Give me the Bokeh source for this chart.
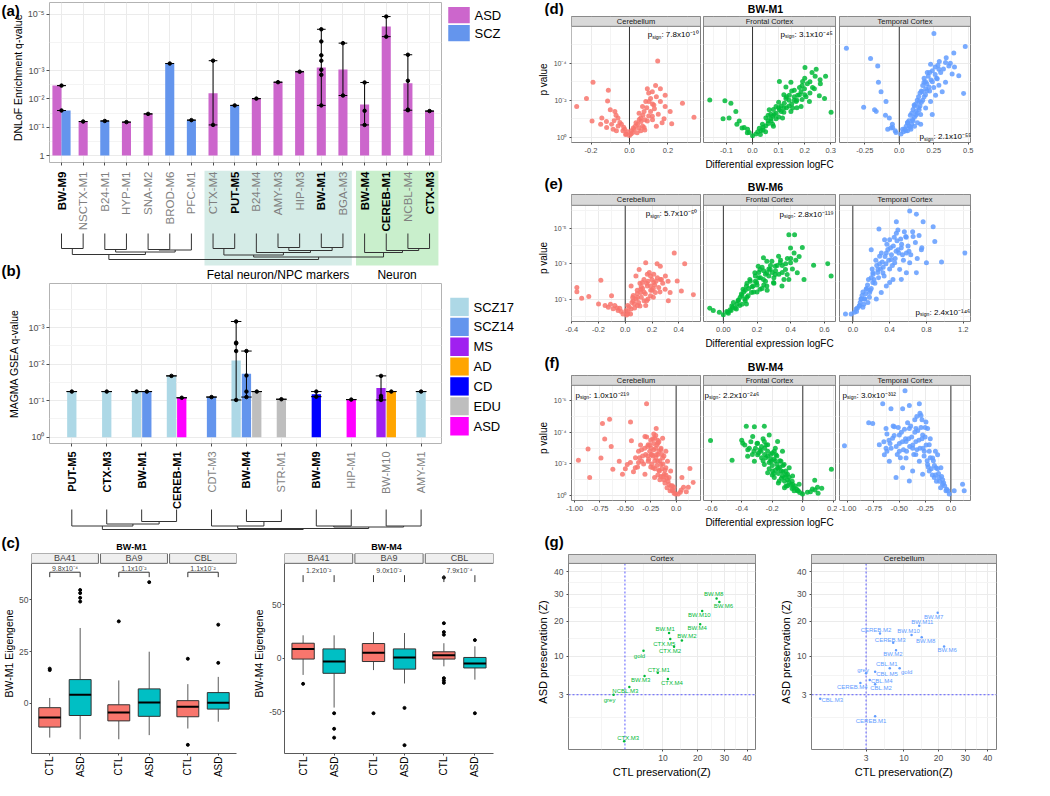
import math
from bokeh.plotting import figure
from bokeh.models import Range1d, FixedTicker, Label
from bokeh.layouts import row, column
from bokeh.core.properties import value
from bokeh.embed import file_html
from bokeh.resources import INLINE

FONT = "Liberation Sans"

# ======================= DATA =======================
# (a) DNLoF enrichment, values are -log10(q)
a_categories = ["BW-M9", "NSCTX-M1", "B24-M1", "HYP-M1", "SNA-M2", "BROD-M6", "PFC-M1",
                "CTX-M4", "PUT-M5", "B24-M4", "AMY-M3", "HIP-M3", "BW-M1", "BGA-M3",
                "BW-M4", "CEREB-M1", "NCBL-M4", "CTX-M3"]
a_bold = ["BW-M9", "PUT-M5", "BW-M1", "BW-M4", "CEREB-M1", "CTX-M3"]
a_groups = ["ASD", "SCZ"]
a_group_colors = ["#CC66CC", "#6495ED"]
a_bar_cat = ["BW-M9", "BW-M9", "NSCTX-M1", "B24-M1", "HYP-M1", "SNA-M2", "BROD-M6", "PFC-M1",
             "CTX-M4", "PUT-M5", "B24-M4", "AMY-M3", "HIP-M3", "BW-M1", "BGA-M3", "BW-M4",
             "CEREB-M1", "NCBL-M4", "CTX-M3"]
a_bar_grp = ["ASD", "SCZ", "ASD", "SCZ", "ASD", "ASD", "SCZ", "SCZ", "ASD", "SCZ", "ASD", "ASD",
             "ASD", "ASD", "ASD", "ASD", "ASD", "ASD", "ASD"]
a_bar_val = [2.47, 1.59, 1.20, 1.22, 1.18, 1.47, 3.25, 1.25, 2.20, 1.77, 2.01, 2.59, 2.96,
             3.11, 3.04, 1.80, 4.56, 2.55, 1.57]
a_bar_dots = [[2.47], [1.59], [1.20], [1.22], [1.18], [1.47], [3.25], [1.25], [1.08, 3.35],
              [1.77], [2.01], [2.59], [2.96], [4.46, 4.03, 3.54, 3.35, 3.03, 2.85, 1.77],
              [2.12, 3.97], [1.08, 1.58, 2.58], [4.20, 4.91], [1.60, 1.62, 2.64, 3.56], [1.57]]
a_bands = [("Fetal neuron/NPC markers", "CTX-M4", "BGA-M3", "#D5ECE7"),
           ("Neuron", "BW-M4", "CTX-M3", "#C9EFCC")]
# dendrogram merges: (node, node, depth below leaf tips in px)
a_dendro = [(0, 1, 15), (2, 3, 16), (4, 5, 16), (20, 6, 16.5), (19, 21, 18.5), (18, 22, 21),
            (7, 8, 15), (10, 11, 14), (12, 13, 14), (25, 26, 17), (9, 27, 19), (24, 28, 21.5),
            (16, 17, 15), (15, 30, 17), (14, 31, 19), (29, 32, 23.5), (23, 33, 26)]

# (b) MAGMA GSEA, values are -log10(q)
b_categories = ["PUT-M5", "CTX-M3", "BW-M1", "CEREB-M1", "CDT-M3", "BW-M4", "STR-M1",
                "BW-M9", "HIP-M1", "BW-M10", "AMY-M1"]
b_bold = ["PUT-M5", "CTX-M3", "BW-M1", "CEREB-M1", "BW-M4", "BW-M9"]
b_groups = ["SCZ17", "SCZ14", "MS", "AD", "CD", "EDU", "ASD"]
b_group_colors = ["#ADD8E6", "#6495ED", "#A020F0", "#FFA500", "#0000FF", "#BEBEBE", "#FF00FF"]
b_bar_cat = ["PUT-M5", "CTX-M3", "BW-M1", "BW-M1", "CEREB-M1", "CEREB-M1", "CDT-M3", "BW-M4",
             "BW-M4", "BW-M4", "STR-M1", "BW-M9", "HIP-M1", "BW-M10", "BW-M10", "AMY-M1"]
b_bar_grp = ["SCZ17", "SCZ17", "SCZ17", "SCZ14", "SCZ17", "ASD", "SCZ14", "SCZ17", "SCZ14",
             "EDU", "EDU", "CD", "ASD", "MS", "AD", "SCZ17"]
b_bar_val = [1.25, 1.25, 1.25, 1.25, 1.68, 1.08, 1.10, 2.10, 1.74, 1.25, 1.04, 1.18, 1.03,
             1.35, 1.25, 1.25]
b_bar_dots = [[1.25], [1.25], [1.25], [1.25], [1.68], [1.08], [1.10],
              [1.02, 2.36, 2.57, 2.59, 3.17], [1.10, 1.25, 1.69, 2.36], [1.25], [1.04],
              [1.11, 1.25], [1.03], [1.02, 1.08, 1.13, 1.68], [1.25], [1.25]]
b_dendro = [(2, 3, 12), (1, 11, 14.5), (0, 12, 16.5), (5, 6, 12), (4, 14, 16.5), (7, 8, 16.5),
            (9, 10, 16.5), (16, 17, 17.5), (15, 18, 19), (13, 19, 20)]

# (c) eigengene boxplots: order BA41 CTL, BA41 ASD, BA9 CTL, BA9 ASD, CBL CTL, CBL ASD
c_facets = ["BA41", "BA9", "CBL"]
c_groups = ["CTL", "ASD"]
c_colors = ["#F8766D", "#00BFC4"]
m1_q1 = [-11.6, -6.0, -8.6, -6.4, -6.6, -2.9]
m1_med = [-7.0, 4.0, -4.6, 0.3, -1.8, 0.2]
m1_q3 = [-2.2, 11.4, -0.8, 6.9, 1.2, 5.1]
m1_lo = [-16.7, -17.5, -17.5, -15.5, -12.3, -9.0]
m1_hi = [2.5, 36.4, 11.0, 24.9, 9.2, 12.7]
m1_out = [[16.7, 16.0], [54.8, 53.3, 51.0, 49.2], [39.6], [58.6], [21.5, -20.2], [19.5, 38.0]]
m1_p = ["9.8x10⁻⁴", "1.1x10⁻²", "1.1x10⁻²"]
m4_q1 = [-0.6, -13.9, -2.9, -10.0, -0.6, -8.9]
m4_med = [8.9, -2.9, 5.3, 0.9, 2.9, -4.7]
m4_q3 = [14.2, 8.9, 13.9, 8.9, 6.2, 0.9]
m4_lo = [-15.4, -45.9, -10.9, -23.4, -7.4, -19.8]
m4_hi = [21.6, 21.6, 24.6, 23.7, 14.2, 11.3]
m4_out = [[-23.7], [-51.2, -65.7, -74.0], [-51.2], [-46.2, -81.0],
          [75.5, 32.9, 24.6, 22.2, -18.4, -20.7, -22.8], [17.1, -51.2]]
m4_p = ["1.2x10⁻²", "9.0x10⁻²", "7.9x10⁻⁴"]

# (d)-(f) volcano: (logFC, -log10 p)
region_names = ["Cerebellum", "Frontal Cortex", "Temporal Cortex"]
region_colors = ["#F8766D", "#00BA38", "#619CFF"]
d_cer = [(-0.275,1.67),(-0.224,2.1),(-0.19,2.98),(-0.195,0.88),(-0.11,2.54),(-0.114,1.96),(-0.144,1.05),(-0.10,1.49),(-0.076,1.4),(-0.06,1.05),(-0.042,0.7),(-0.025,0.44),(-0.093,0.7),(-0.068,0.35),(-0.017,0.18),(0.008,0.18),(0.025,0.44),(0.042,0.7),(0.059,1.05),(0.076,1.4),(0.085,1.93),(0.093,2.63),(0.119,2.46),(0.136,2.8),(0.147,4.12),(0.127,1.75),(0.11,1.4),(0.161,1.93),(0.186,1.67),(0.212,1.4),(0.17,0.79),(0.276,1.84),(0.336,1.09),(0.22,0.74),(0.068,0.61),(0.051,0.96),(0.034,0.79),(0.093,0.88),(0.119,1.14),(0.076,0.53),(0.017,0.26),(-0.034,0.35),(-0.085,0.44),(-0.119,0.53),(-0.059,0.61),(0.059,0.35),(0.102,1.93),(0.161,2.63),(0.068,1.67),(0.186,2.28),
         (-0.08,0.9),(-0.05,0.8),(-0.03,0.55),(-0.01,0.3),(0.0,0.1),(0.01,0.35),(0.03,0.6),(0.05,0.5),(0.06,0.85),(0.07,1.2),(0.08,0.95),(0.09,1.6),(0.1,1.15),(0.11,2.1),(0.12,0.95),(0.13,1.55),(0.14,2.2),(0.1,2.4),(0.15,1.25),(0.05,1.3),(-0.07,1.2),(-0.12,0.85),(-0.15,0.7),(0.04,0.25),(0.02,0.5),(-0.02,0.15),(0.08,0.4),(0.14,0.6),(0.18,1.0),(0.12,1.8)]
d_fro = [(-0.164,2.02),(-0.106,1.98),(-0.083,1.84),(-0.064,1.4),(-0.113,1.0),(-0.09,1.05),(-0.051,0.88),(-0.032,0.53),(-0.013,0.26),(0.013,0.18),(0.032,0.35),(0.051,0.61),(0.071,0.88),(0.083,1.23),(0.103,1.49),(0.122,1.84),(0.141,2.28),(0.16,2.54),(0.186,2.46),(0.199,2.63),(0.205,2.19),(0.256,2.25),(0.301,1.35),(0.244,3.68),(0.201,3.77),(0.228,3.51),(0.259,3.11),(0.192,3.02),(0.147,2.98),(0.103,3.02),(0.128,2.72),(0.167,1.93),(0.154,1.58),(0.115,1.05),(0.077,0.7),(0.051,1.05),(0.038,0.7),(0.09,1.67),(0.147,1.4),(0.186,1.67),(0.218,1.93),(0.276,2.1),(0.064,1.49),(0.026,0.49),(-0.019,0.44),(0.128,2.1),(0.173,2.28),(0.237,2.63),(0.077,1.14),(0.0,0.09),
         (0.02,0.3),(0.04,0.55),(0.06,0.75),(0.07,1.0),(0.08,0.6),(0.09,1.3),(0.1,1.1),(0.11,1.7),(0.12,1.35),(0.13,1.6),(0.14,2.0),(0.15,1.8),(0.16,2.2),(0.17,2.0),(0.18,2.7),(0.2,2.3),(0.21,2.9),(0.22,2.4),(0.12,2.3),(0.1,1.9),(0.06,1.2),(0.08,1.5),(-0.02,0.25),(-0.04,0.5),(-0.06,0.7),(0.03,0.15),(0.05,0.3),(0.15,2.5),(0.17,1.6),(0.19,2.05),
         (0.04,0.4),(0.06,0.9),(0.09,1.0),(0.11,1.4),(0.12,1.6),(0.13,2.2),(0.14,1.7),(0.16,2.0),(0.18,2.3),(0.19,2.8),(0.2,3.2),(0.22,3.0),(0.23,2.7),(0.24,3.3),(0.26,2.9),(0.28,3.3),(0.1,1.6),(0.07,1.25)]
d_tem = [(-0.383,4.82),(-0.208,4.26),(-0.156,3.86),(-0.258,1.63),(-0.151,2.98),(-0.132,2.46),(-0.179,1.49),(-0.096,1.93),(-0.167,1.4),(-0.072,1.05),(-0.048,0.53),(-0.084,0.44),(-0.024,0.26),(0.012,0.18),(0.048,0.35),(0.072,0.61),(0.096,0.96),(0.12,1.4),(0.144,1.93),(0.167,2.46),(0.179,2.98),(0.203,3.51),(0.227,3.95),(0.251,5.61),(0.287,3.68),(0.335,4.04),(0.395,4.56),(0.478,4.91),(0.466,2.37),(0.383,3.42),(0.335,2.98),(0.287,2.81),(0.263,2.28),(0.227,1.93),(0.191,1.58),(0.155,1.23),(0.132,0.79),(0.084,0.44),(0.155,0.7),(0.239,1.23),(0.311,2.46),(0.431,3.33),(0.359,3.86),(0.191,2.63),(0.108,1.75),(0.06,0.79),(0.024,0.44),(0.275,3.16),(0.215,2.72),(0.144,1.49),
         (0.03,0.3),(0.05,0.6),(0.07,0.9),(0.08,1.2),(0.09,0.7),(0.1,1.5),(0.11,1.1),(0.12,1.8),(0.13,1.3),(0.14,2.2),(0.15,1.7),(0.16,2.5),(0.17,2.0),(0.18,3.2),(0.19,2.3),(0.2,2.9),(0.21,3.3),(0.22,2.5),(0.23,3.1),(0.24,3.6),(0.25,2.7),(0.26,3.4),(0.28,3.9),(0.3,3.5),(-0.03,0.35),(-0.05,0.7),(-0.06,0.5),(-0.1,1.2),(0.06,0.35),(0.11,0.6),
         (0.04,0.45),(0.06,0.8),(0.08,0.55),(0.09,1.3),(0.1,0.9),(0.11,1.7),(0.12,1.2),(0.13,2.0),(0.14,1.6),(0.15,2.4),(0.16,1.9),(0.17,2.8),(0.18,2.2),(0.19,3.0),(0.2,2.5),(0.22,3.5),(0.24,3.0),(0.26,3.8),(0.27,3.2),(0.29,4.1),(0.32,3.7),(0.34,4.3),(0.37,4.0),(0.4,3.8)]
e_cer = [(-0.361,1.65),(-0.361,1.41),(-0.325,1.04),(-0.272,1.15),(-0.182,2.06),(-0.199,0.72),(-0.102,1.18),(-0.126,0.54),(-0.078,0.63),(-0.053,0.35),(-0.017,0.16),(0.019,0.16),(0.044,0.44),(0.068,0.72),(0.092,1.09),(0.116,1.37),(0.128,1.93),(0.153,3.05),(0.165,2.4),(0.189,1.74),(0.213,1.93),(0.238,3.0),(0.262,2.86),(0.262,2.11),(0.298,1.56),(0.335,1.37),(0.366,3.6),(0.388,2.02),(0.419,1.46),(0.444,3.0),(0.509,1.24),(0.08,2.3),(0.104,2.67),(0.044,1.74),(0.056,1.09),(0.141,0.91),(0.189,1.18),(0.225,1.37),(0.25,1.65),(0.165,1.74),(0.116,1.56),(0.019,0.63),(0.007,0.35),(0.189,2.3),(0.322,0.91),(0.092,0.63),(0.153,0.63),(0.213,2.4),(-0.15,0.63),(-0.041,0.48),
         (0.02,0.3),(0.03,0.55),(0.05,0.8),(0.06,1.2),(0.07,0.5),(0.08,1.0),(0.09,1.5),(0.1,0.8),(0.11,1.9),(0.12,1.1),(0.13,1.6),(0.14,2.1),(0.15,1.3),(0.16,1.9),(0.17,1.0),(0.18,2.5),(0.19,1.5),(0.2,2.1),(0.21,1.1),(0.22,1.8),(0.24,2.2),(0.26,1.4),(0.28,1.9),(0.3,2.3),(-0.03,0.3),(-0.06,0.5),(-0.09,0.45),(-0.11,0.7),(0.01,0.1),(0.04,0.15),
         (0.06,0.9),(0.09,1.3),(0.12,1.7),(0.14,1.4),(0.17,2.0),(0.2,1.5),(0.23,2.0),(0.27,2.1),(0.32,2.0),(0.11,0.6),(0.16,0.9),(0.21,1.6)]
e_fro = [(-0.081,0.48),(-0.06,0.35),(-0.024,0.25),(0.0,0.11),(0.026,0.25),(0.056,0.54),(0.087,0.91),(0.107,1.28),(0.137,1.74),(0.157,2.11),(0.187,2.49),(0.207,2.86),(0.238,3.33),(0.258,2.49),(0.288,3.14),(0.308,2.86),(0.338,3.05),(0.369,2.67),(0.399,3.88),(0.389,4.63),(0.423,4.63),(0.469,3.91),(0.536,2.91),(0.62,3.0),(0.64,2.3),(0.479,2.11),(0.439,2.49),(0.389,2.11),(0.348,1.74),(0.298,1.93),(0.258,1.74),(0.218,1.56),(0.197,1.93),(0.167,1.37),(0.127,1.0),(0.097,0.63),(0.077,0.44),(0.147,1.18),(0.238,2.11),(0.308,2.39),(0.399,3.05),(0.218,2.67),(0.278,2.67),(0.177,1.74),(0.117,1.56),(0.046,0.35),(0.379,2.39),(0.328,3.42),(0.258,3.14),(0.137,0.72),
         (0.02,0.3),(0.04,0.4),(0.06,0.8),(0.08,0.7),(0.1,1.1),(0.12,1.4),(0.13,0.9),(0.15,1.6),(0.16,2.0),(0.18,1.4),(0.19,2.3),(0.2,1.8),(0.22,2.2),(0.23,1.6),(0.24,2.6),(0.25,2.0),(0.27,2.3),(0.28,2.9),(0.3,2.2),(0.31,2.6),(0.33,2.4),(0.35,2.9),(0.36,2.1),(0.38,3.3),(0.41,2.7),(0.43,3.2),(0.11,0.7),(0.14,1.1),(0.21,2.5),(0.26,1.5),
         (0.03,0.2),(0.05,0.6),(0.07,0.5),(0.09,0.95),(0.11,1.2),(0.13,1.5),(0.14,1.9),(0.17,1.7),(0.19,2.0),(0.21,2.2),(0.23,2.8),(0.25,2.4),(0.27,2.7),(0.29,2.5),(0.32,2.9),(0.34,3.2),(0.37,3.0),(0.4,3.3),(0.42,3.6),(0.45,3.4),(0.24,1.8),(0.3,1.9),(0.2,1.4),(0.35,2.5)]
e_tem = [(-0.08,0.16),(-0.018,0.16),(0.018,0.25),(0.073,0.63),(0.127,1.0),(0.182,1.37),(0.218,1.93),(0.2,3.79),(0.273,2.67),(0.284,4.96),(0.364,3.6),(0.4,4.35),(0.455,3.05),(0.473,5.37),(0.527,3.88),(0.575,4.54),(0.618,5.98),(0.691,5.8),(0.764,5.37),(0.873,5.09),(0.891,4.25),(0.8,3.05),(0.964,3.1),(1.218,3.6),(0.691,2.49),(0.582,3.6),(0.509,2.67),(0.436,2.11),(0.364,1.74),(0.309,1.37),(0.255,1.0),(0.164,0.81),(0.109,0.54),(0.327,2.49),(0.418,3.23),(0.491,3.79),(0.582,2.49),(0.655,4.54),(0.745,3.79),(0.291,3.42),(0.218,2.49),(0.4,1.93),(0.527,2.11),(0.145,1.56),(0.091,1.0),(0.618,3.05),(0.473,4.72),(0.345,4.35),(0.2,2.21),(0.036,0.44),
         (0.05,0.5),(0.08,0.8),(0.1,1.2),(0.12,0.7),(0.14,1.3),(0.16,1.8),(0.18,1.1),(0.2,1.6),(0.22,2.4),(0.24,1.9),(0.26,2.9),(0.28,2.2),(0.3,2.7),(0.32,3.1),(0.34,2.3),(0.36,3.0),(0.38,3.8),(0.4,2.7),(0.42,3.5),(0.44,4.0),(0.46,3.3),(0.48,4.3),(0.5,3.6),(0.53,4.1),(0.55,3.2),(0.6,4.0),(0.63,3.5),(0.68,4.2),(0.7,3.3),(0.56,4.8),
         (0.04,0.3),(0.07,0.6),(0.09,1.0),(0.11,1.4),(0.13,1.0),(0.15,1.6),(0.17,2.1),(0.19,1.5),(0.21,2.7),(0.23,2.1),(0.25,3.2),(0.27,2.5),(0.29,3.0),(0.31,3.6),(0.33,2.8),(0.35,3.4),(0.37,4.1),(0.39,3.2),(0.41,3.9),(0.43,2.9),(0.45,4.5),(0.47,3.7),(0.49,4.9),(0.52,4.4),(0.54,3.5),(0.58,4.5),(0.61,3.7),(0.65,4.8),(0.72,4.6),(0.75,3.9)]
f_cer = [(-0.962,2.24),(-0.867,2.94),(-0.851,1.14),(-0.74,2.38),(-0.725,4.55),(-0.655,4.82),(-0.703,3.58),(-0.639,3.1),(-0.623,1.66),(-0.56,2.17),(-0.528,1.35),(-0.449,4.66),(-0.44,3.46),(-0.37,2.8),(-0.339,2.17),(-0.291,5.8),(-0.307,3.73),(-0.244,3.0),(-0.196,4.24),(-0.212,3.62),(-0.18,3.31),(-0.149,3.0),(-0.275,2.17),(-0.228,1.76),(-0.18,2.17),(-0.133,2.38),(-0.101,1.76),(-0.07,1.14),(-0.038,0.62),(-0.006,0.1),(0.041,0.21),(0.073,0.52),(0.057,1.14),(0.136,1.72),(0.168,0.83),(0.12,0.52),(-0.165,1.55),(-0.212,1.14),(-0.307,1.35),(-0.402,1.76),(-0.117,1.35),(-0.149,1.97),(-0.244,2.59),(-0.101,2.8),(-0.054,1.55),(-0.196,2.59),(-0.275,3.21),(-0.481,1.97),(-0.022,0.52),(-0.085,2.17),(-0.133,3.62),
         (-0.05,0.6),(-0.08,0.9),(-0.1,1.3),(-0.12,1.0),(-0.14,1.7),(-0.15,1.2),(-0.16,2.2),(-0.17,1.6),(-0.18,2.6),(-0.19,1.9),(-0.2,3.0),(-0.21,2.2),(-0.22,3.3),(-0.23,2.5),(-0.24,2.0),(-0.25,3.5),(-0.26,2.8),(-0.27,2.3),(-0.28,3.1),(-0.3,2.6),(-0.32,2.0),(-0.34,2.9),(-0.36,2.4),(-0.38,1.8),(-0.4,2.4),(-0.42,1.5),(-0.45,2.1),(-0.5,1.7),(-0.03,0.3),(0.02,0.1),(0.05,0.35),(0.1,0.25),(-0.12,2.5),(-0.15,2.9),(-0.18,3.5),(-0.22,3.9),
         (-0.02,0.15),(-0.04,0.35),(-0.06,0.3),(-0.07,0.7),(-0.09,0.5),(-0.09,1.1),(-0.11,0.8),(-0.11,1.6),(-0.13,1.2),(-0.13,2.0),(-0.14,2.6),(-0.16,1.0),(-0.17,2.8),(-0.18,1.3),(-0.19,3.2),(-0.2,2.4),(-0.21,1.7),(-0.22,2.9),(-0.23,3.6),(-0.24,2.6),(-0.25,1.8),(-0.26,3.2),(-0.28,2.5),(-0.29,3.7),(-0.31,3.0),(-0.33,2.5),(-0.35,3.2),(-0.37,2.1),(-0.2,3.8),(-0.17,3.4)]
f_fro = [(-0.604,3.48),(-0.463,2.24),(-0.393,3.31),(-0.37,4.39),(-0.328,3.73),(-0.317,4.35),(-0.252,4.39),(-0.252,3.42),(-0.274,2.8),(-0.23,3.21),(-0.187,2.8),(-0.165,3.42),(-0.209,2.17),(-0.165,1.76),(-0.143,2.17),(-0.111,1.55),(-0.089,1.14),(-0.067,0.72),(-0.035,0.31),(-0.002,0.1),(0.03,0.21),(0.063,0.41),(0.096,0.52),(0.124,0.46),(0.187,1.66),(0.078,0.97),(-0.35,3.0),(-0.296,2.59),(-0.317,2.17),(-0.252,1.97),(-0.198,1.55),(-0.133,1.24),(-0.122,1.97),(-0.067,1.24),(-0.187,1.14),(-0.23,1.45),(-0.057,0.31),(-0.1,0.62),(-0.176,2.59),(-0.133,2.8),(-0.296,3.31),(-0.361,2.48),(-0.154,0.93),(-0.089,1.76),(-0.22,3.83),(-0.024,0.72),
         (-0.02,0.2),(-0.04,0.4),(-0.06,0.5),(-0.07,0.9),(-0.08,0.7),(-0.1,1.0),(-0.11,1.3),(-0.12,0.9),(-0.13,1.5),(-0.14,1.1),(-0.15,1.8),(-0.16,1.4),(-0.17,2.0),(-0.18,1.6),(-0.19,2.3),(-0.2,1.9),(-0.21,2.6),(-0.22,2.1),(-0.23,2.8),(-0.24,2.4),(-0.25,3.0),(-0.26,2.2),(-0.28,2.9),(-0.3,3.3),(-0.32,2.8),(-0.34,3.4),(-0.2,1.3),(-0.16,0.8),(-0.12,0.5),(0.05,0.25),(0.08,0.35),(0.1,0.15),
         (-0.03,0.3),(-0.05,0.6),(-0.07,0.45),(-0.09,0.85),(-0.1,1.35),(-0.12,1.15),(-0.13,1.9),(-0.14,1.55),(-0.15,2.2),(-0.16,1.7),(-0.17,2.5),(-0.18,2.2),(-0.19,1.4),(-0.2,2.7),(-0.21,2.3),(-0.22,1.7),(-0.23,2.5),(-0.24,3.2),(-0.25,2.6),(-0.27,3.1),(-0.27,2.4),(-0.29,2.7),(-0.31,3.0),(-0.33,2.6),(-0.36,2.9),(-0.38,3.2),(-0.4,3.5),(-0.26,3.6),(-0.18,3.0),(-0.11,0.6)]
f_tem = [(-1.032,3.15),(-0.797,4.6),(-0.758,4.55),(-0.661,5.8),(-0.581,5.49),(-0.548,4.35),(-0.445,6.63),(-0.468,5.49),(-0.403,5.69),(-0.306,5.8),(-0.29,5.07),(-0.242,4.66),(-0.694,3.21),(-0.629,3.0),(-0.645,2.59),(-0.597,2.17),(-0.532,1.14),(-0.5,3.83),(-0.435,3.42),(-0.371,3.0),(-0.435,2.38),(-0.371,1.55),(-0.306,2.17),(-0.258,2.8),(-0.21,3.21),(-0.177,2.38),(-0.145,1.76),(-0.113,1.14),(-0.081,0.72),(-0.048,0.31),(-0.016,0.1),(0.032,0.31),(0.113,0.72),(0.129,0.31),(-0.339,4.24),(-0.274,3.83),(-0.226,4.24),(-0.403,4.24),(-0.5,2.8),(-0.565,3.62),(-0.274,1.35),(-0.226,1.97),(-0.129,2.59),(-0.339,2.59),(-0.468,1.76),(-0.161,1.14),(-0.097,1.76),(-0.403,0.93),(-0.21,1.55),(-0.629,4.24),
         (-0.03,0.3),(-0.06,0.6),(-0.08,1.0),(-0.1,0.5),(-0.12,1.4),(-0.14,0.9),(-0.16,1.9),(-0.18,1.3),(-0.2,2.4),(-0.22,1.8),(-0.24,3.2),(-0.26,2.5),(-0.28,3.6),(-0.3,3.0),(-0.32,4.1),(-0.34,3.4),(-0.36,2.6),(-0.38,3.7),(-0.4,3.1),(-0.42,4.6),(-0.44,3.6),(-0.46,2.9),(-0.48,4.0),(-0.5,3.3),(-0.52,2.6),(-0.55,3.8),(-0.58,3.0),(-0.6,3.5),(-0.62,2.8),(-0.65,3.4),(-0.3,5.2),(-0.25,4.3),(-0.35,4.8),(-0.2,3.6),(-0.15,2.8),
         (-0.04,0.4),(-0.07,0.8),(-0.09,1.2),(-0.11,0.9),(-0.13,1.7),(-0.15,1.3),(-0.17,2.2),(-0.19,1.7),(-0.21,2.8),(-0.23,2.2),(-0.25,3.7),(-0.27,3.0),(-0.29,4.3),(-0.31,3.5),(-0.33,2.9),(-0.35,4.0),(-0.37,3.2),(-0.39,4.4),(-0.41,3.6),(-0.43,2.8),(-0.45,4.2),(-0.47,3.4),(-0.49,2.4),(-0.51,4.3),(-0.53,3.1),(-0.56,4.4),(-0.59,3.3),(-0.62,3.9),(-0.28,4.8),(-0.33,5.0)]
d_psign = ["7.8x10⁻¹⁰", "3.1x10⁻⁴⁵", "2.1x10⁻⁵⁵"]
e_psign = ["5.7x10⁻⁵⁰", "2.8x10⁻¹¹⁹", "2.4x10⁻¹⁴⁶"]
f_psign = ["1.0x10⁻²¹⁹", "2.2x10⁻²⁴⁶", "3.0x10⁻³¹²"]

# (g) preservation Z
g_ctx_names = ["BW.M8", "BW.M6", "BW.M10", "BW.M4", "BW.M1", "BW.M2", "CTX.M5", "CTX.M2", "gold",
               "CTX.M1", "BW.M3", "CTX.M4", "NCBL.M3", "grey", "CTX.M3"]
g_ctx_ctl = [26.8, 27.9, 21.5, 20.8, 11.5, 15.0, 11.8, 12.8, 5.9, 8.8, 6.1, 11.2, 3.6, 1.7, 2.9]
g_ctx_asd = [28.3, 26.9, 23.6, 19.0, 16.3, 14.1, 14.5, 12.4, 11.4, 6.5, 5.9, 5.4, 4.1, 3.0, 0.0]
g_cbl_names = ["BW.M7", "BW.M11", "CEREB.M2", "BW.M10", "CEREB.M3", "BW.M8", "BW.M6", "BW.M2",
               "CBL.M1", "gold", "grey", "CBL.M5", "CBL.M4", "CEREB.M4", "CBL.M2", "CBL.M3",
               "CEREB.M1"]
g_cbl_ctl = [19.7, 14.0, 5.1, 11.9, 7.6, 14.7, 21.9, 8.2, 6.9, 9.0, 3.0, 4.3, 3.5, 2.3, 4.3, 0.0, 4.3]
g_cbl_asd = [22.9, 18.5, 16.1, 15.7, 13.5, 15.0, 12.5, 11.5, 7.4, 7.4, 6.4, 6.7, 5.2, 4.7, 4.5, 2.5, 0.87]
g_threshold = 3.0
# label placement offsets (screen px) for the point labels
g_ctx_dx = [-3, 4, -3, -3, -4, 5, -6, -4, -4, 1, -4, 4, -4, -4, 4]
g_ctx_dy = [-5, 4, 4, 4, -4, -4, 5, 4, 5, -3, 4, 4, 4, 5, -3]
g_cbl_dx = [-4, 3, -4, -3, -3, 4, 3, -3, -3, 7, -3, 12, 12, -8, 6, 12, -4]
g_cbl_dy = [4, -4, -4, -4, -3, 4, 4, 4, -4, 4, -3, 2, 1, 4, 4, 1, 5]


# ======================= HELPERS =======================
class Fr:
    """frame geometry in page pixels (reference coordinates) and data ranges"""
    def __init__(self, fx0, fx1, fy0, fy1, xr, yr):
        self.fx0, self.fx1, self.fy0, self.fy1, self.xr, self.yr = fx0, fx1, fy0, fy1, xr, yr

    def x(self, px):
        return self.xr[0] + (px - self.fx0) / (self.fx1 - self.fx0) * (self.xr[1] - self.xr[0])

    def y(self, py):
        return self.yr[0] + (self.fy1 - py) / (self.fy1 - self.fy0) * (self.yr[1] - self.yr[0])


def make(cx0, cy0, w, h, fr, axes=True, yaxis=True):
    kw = dict(width=w, height=h, x_range=Range1d(*fr.xr), y_range=Range1d(*fr.yr),
              output_backend="svg", toolbar_location=None, tools="",
              min_border_left=int(round(fr.fx0 - cx0)), min_border_right=int(round(cx0 + w - fr.fx1)),
              min_border_top=int(round(fr.fy0 - cy0)), min_border_bottom=int(round(cy0 + h - fr.fy1)))
    if not axes:
        kw.update(x_axis_type=None, y_axis_type=None)
    elif not yaxis:
        kw.update(y_axis_location=None)
    p = figure(**kw)
    p.outline_line_color = None
    p.background_fill_color = "white"
    p.border_fill_color = "white"
    if axes:
        for ax in list(p.xaxis) + list(p.yaxis):
            ax.major_label_text_font = FONT
            ax.major_label_text_color = "#4D4D4D"
            ax.axis_label_text_font = FONT
            ax.axis_label_text_font_style = "normal"
            ax.axis_label_text_color = "black"
            ax.major_tick_in = 0
            ax.major_tick_out = 2
            ax.minor_tick_line_color = None
            ax.axis_line_color = None
            ax.major_tick_line_color = "#4D4D4D"
            ax.major_label_standoff = 1
            ax.axis_label_standoff = 2
    return p


def plain(cx0, cy0, w, h):
    """axis-less figure whose data coordinates are page pixels"""
    fr = Fr(cx0, cx0 + w, cy0, cy0 + h, (cx0, cx0 + w), (cy0 + h, cy0))
    return make(cx0, cy0, w, h, fr, axes=False), fr


def lab(p, fr, px, py, text, size, bold=False, color="black", align="left", baseline="middle", angle=0.0):
    p.add_layout(Label(x=fr.x(px), y=fr.y(py), text=text, text_font=FONT,
                       text_font_size=f"{size}px", text_font_style="bold" if bold else "normal",
                       text_color=color, text_align=align, text_baseline=baseline, angle=angle))


def set_ticks(p, axis, ticks, labels=None, minor=None):
    t = FixedTicker(ticks=ticks, minor_ticks=minor or [])
    axes = p.xaxis if axis == "x" else p.yaxis
    for ax in axes:
        ax.ticker = t
        if labels is not None:
            ax.major_label_overrides = dict(zip(ticks, labels))
    (p.xgrid if axis == "x" else p.ygrid).ticker = t


def grid_style(p, major="#EBEBEB", minor="#F4F4F4"):
    for g in (p.xgrid, p.ygrid):
        g.grid_line_color = major
        g.minor_grid_line_color = minor


def dendrogram(p, leaf_x, merges, leaf_y):
    xs = list(leaf_x)
    ys = [leaf_y] * len(leaf_x)
    x0, y0, x1, y1 = [], [], [], []
    for a, b, d in merges:
        h = leaf_y + d
        for n in (a, b):
            x0.append(xs[n]); y0.append(ys[n]); x1.append(xs[n]); y1.append(h)
        x0.append(xs[a]); y0.append(h); x1.append(xs[b]); y1.append(h)
        xs.append((xs[a] + xs[b]) / 2.0)
        ys.append(h)
    p.segment(x0, y0, x1, y1, line_color="#333333", line_width=1)


def cat_labels(p, cats, bold, ytop, size):
    bx = [i for i, c in enumerate(cats) if c in bold]
    nx = [i for i, c in enumerate(cats) if c not in bold]
    p.text(x=bx, y=[ytop] * len(bx), text=[cats[i] for i in bx], angle=math.pi / 2,
           text_font=value(FONT), text_font_size=f"{size}px", text_font_style="bold",
           text_color="black", text_align="right", text_baseline="middle")
    p.text(x=nx, y=[ytop] * len(nx), text=[cats[i] for i in nx], angle=math.pi / 2,
           text_font=value(FONT), text_font_size=f"{size}px", text_font_style="normal",
           text_color="#7F7F7F", text_align="right", text_baseline="middle")


def legend_fig(cx0, cy0, w, h, names, colors, ky0, kh, kx0, kw, tsize):
    p, fr = plain(cx0, cy0, w, h)
    tops = [ky0 + k * kh for k in range(len(names))]
    p.quad(left=kx0, right=kx0 + kw, top=tops, bottom=[t + kh for t in tops],
           fill_color=colors, line_color="white", line_width=1.5)
    p.text(x=kx0 + kw + 4, y=[t + kh / 2 for t in tops], text=names, text_font=value(FONT),
           text_font_size=f"{tsize}px", text_baseline="middle", text_align="left", text_color="black")
    return p


def bar_panel(p, cats, bar_cat, bar_grp, bar_val, bar_dots, groups, colors, width, step, dodge_err, cap):
    ci = {c: i for i, c in enumerate(cats)}
    col = dict(zip(groups, colors))
    xs = []
    for j, c in enumerate(bar_cat):
        same = [k for k, cc in enumerate(bar_cat) if cc == c]
        n = len(same)
        k = same.index(j)
        xs.append(ci[c] + (k - (n - 1) / 2.0) * step)
    p.vbar(x=xs, width=width, top=bar_val, bottom=0, fill_color=[col[g] for g in bar_grp],
           line_color=None)
    ex = xs if dodge_err else [ci[c] for c in bar_cat]
    lo = [min(d) for d in bar_dots]
    hi = [max(d) for d in bar_dots]
    p.segment(ex, lo, ex, hi, line_color="black", line_width=1)
    p.segment([x - cap for x in ex], lo, [x + cap for x in ex], lo, line_color="black", line_width=1)
    p.segment([x - cap for x in ex], hi, [x + cap for x in ex], hi, line_color="black", line_width=1)
    dx, dy = [], []
    for x, d in zip(ex, bar_dots):
        dx += [x] * len(d)
        dy += d
    p.scatter(dx, dy, size=3.5, color="black")


def hide_xlabels(p, n):
    set_ticks(p, "x", list(range(n)), [""] * n)
    p.xaxis.major_label_standoff = 0
    p.xaxis.major_tick_out = 3


# ======================= (a) =======================
A_C0, A_STEP = 69.0, 21.65
pTagA, frTagA = plain(8, 8, 24, 170)
lab(pTagA, frTagA, 9, 17, "(a)", 15, bold=True)
lab(pTagA, frTagA, 25, 88, "DNLoF Enrichment q-value", 10.5, align="center", angle=math.pi / 2)

frA = Fr(57, 449, 10, 170, ((57 - A_C0) / A_STEP, (449 - A_C0) / A_STEP), (-7 / 28.3, 153 / 28.3))
pA = make(32, 8, 420, 170, frA)
grid_style(pA)
pA.outline_line_color = "#B3B3B3"
bar_panel(pA, a_categories, a_bar_cat, a_bar_grp, a_bar_val, a_bar_dots, a_groups, a_group_colors,
          0.42, 0.42, False, 0.2)
set_ticks(pA, "y", [0, 1, 2, 3, 5], ["1", "10⁻¹", "10⁻²", "10⁻³", "10⁻⁵"], [0.5, 1.5, 2.5, 4])
hide_xlabels(pA, len(a_categories))
pA.yaxis.major_tick_out = 3
pA.yaxis.major_label_text_font_size = "9px"

pLA = legend_fig(452, 8, 90, 170, a_groups, a_group_colors, 12, 19, 455, 23, 13)

frA2 = Fr(8, 542, 178, 291, ((8 - A_C0) / A_STEP, (542 - A_C0) / A_STEP), (291, 178))
pA2 = make(8, 178, 534, 113, frA2, axes=False)
aci = {c: i for i, c in enumerate(a_categories)}
for name, c0, c1, colr in a_bands:
    pA2.quad(left=aci[c0] - 0.395, right=aci[c1] + 0.41, top=178, bottom=273, fill_color=colr, line_color=None)
    pA2.text(x=[(aci[c0] + aci[c1]) / 2.0], y=[282], text=[name], text_font=value(FONT),
             text_font_size="12px", text_align="center", text_baseline="middle", text_color="black")
cat_labels(pA2, a_categories, a_bold, 179, 11.5)
dendrogram(pA2, list(range(len(a_categories))), a_dendro, 241)
lab(pA2, frA2, 9, 278, "(b)", 15, bold=True)

# ======================= (b) =======================
B_C0, B_STEP = 79.3, 34.93
frB = Fr(57, 449, 291, 451, ((57 - B_C0) / B_STEP, (449 - B_C0) / B_STEP),
         ((444.7 - 451) / 36.5, (444.7 - 291) / 36.5))
pB = make(8, 291, 444, 165, frB)
grid_style(pB)
pB.outline_line_color = "#B3B3B3"
bar_panel(pB, b_categories, b_bar_cat, b_bar_grp, b_bar_val, b_bar_dots, b_groups, b_group_colors,
          0.266, 0.295, True, 0.15)
set_ticks(pB, "y", [0, 1, 2, 3], ["10⁰", "10⁻¹", "10⁻²", "10⁻³"], [0.5, 1.5, 2.5, 3.5])
hide_xlabels(pB, len(b_categories))
pB.yaxis.major_tick_out = 3
pB.yaxis.major_label_text_font_size = "9px"
pB.yaxis.axis_label = "MAGMA GSEA q-value"
pB.yaxis.axis_label_text_font_size = "10.5px"
pB.yaxis.axis_label_standoff = 5

pLB = legend_fig(452, 291, 90, 165, b_groups, b_group_colors, 305, 20.5, 457, 20, 13)

frB2 = Fr(8, 542, 456, 540, ((8 - B_C0) / B_STEP, (542 - B_C0) / B_STEP), (540, 456))
pB2 = make(8, 456, 534, 84, frB2, axes=False)
cat_labels(pB2, b_categories, b_bold, 459, 11)
dendrogram(pB2, list(range(len(b_categories))), b_dendro, 517)


# ======================= (c) =======================
def box_panel(cx0, w, fx0, fx1, ylo, yhi, q1, med, q3, lo, hi, outs, pvals, yticks, ylabel,
              full_bracket, ptext_y, br_y0, br_y1):
    ytop = yhi + 10 * (yhi - ylo) / 193.0
    fr = Fr(fx0, fx1, 561, 764, (0.4, 7.14), (ylo, ytop))
    p = make(cx0, 560, w, 228, fr)
    p.xgrid.visible = False
    p.ygrid.visible = False
    xs = [round(1 + g + 2.27 * f, 4) for f in range(3) for g in range(2)]
    cols = [c_colors[g] for f in range(3) for g in range(2)]
    p.segment(xs, hi, xs, q3, line_color="#595959", line_width=1)
    p.segment(xs, lo, xs, q1, line_color="#595959", line_width=1)
    p.vbar(x=xs, width=0.72, bottom=q1, top=q3, fill_color=cols, line_color="#333333", line_width=1)
    p.segment([x - 0.36 for x in xs], med, [x + 0.36 for x in xs], med, line_color="black", line_width=2)
    ox, oy = [], []
    for x, o in zip(xs, outs):
        ox += [x] * len(o)
        oy += o
    p.scatter(ox, oy, size=3, color="black")
    lefts = [0.4 + 2.27 * f for f in range(3)]
    p.quad(left=lefts, right=[l + 2.2 for l in lefts], bottom=yhi, top=ytop,
           fill_color="#EFEFEF", line_color="#666666", line_width=1)
    for f, name in enumerate(c_facets):
        p.add_layout(Label(x=lefts[f] + 1.1, y=(yhi + ytop) / 2, text=name, text_font=FONT,
                           text_font_size="9px", text_align="center", text_baseline="middle"))
        xa, xb = xs[2 * f], xs[2 * f + 1]
        p.add_layout(Label(x=(xa + xb) / 2, y=fr.y(ptext_y), text=pvals[f], text_font=FONT,
                           text_font_size="7px", text_align="center", text_baseline="middle"))
        if full_bracket:
            p.segment([xa], [fr.y(br_y0)], [xb], [fr.y(br_y0)], line_color="#333333", line_width=1)
        p.segment([xa, xb], [fr.y(br_y0)] * 2, [xa, xb], [fr.y(br_y1)] * 2, line_color="#333333", line_width=1)
    set_ticks(p, "x", xs, [c_groups[g] for f in range(3) for g in range(2)])
    set_ticks(p, "y", yticks, [str(t) for t in yticks])
    p.xaxis.major_label_orientation = math.pi / 2
    p.xaxis.major_label_text_font_size = "10px"
    p.xaxis.major_label_text_color = "black"
    p.yaxis.major_label_text_font_size = "8.5px"
    p.xaxis.axis_line_color = "#595959"
    p.yaxis.axis_line_color = "#595959"
    p.yaxis.bounds = (ylo, yhi)
    p.yaxis.axis_label = ylabel
    p.yaxis.axis_label_text_font_size = "10.5px"
    p.yaxis.axis_label_standoff = 1
    return p, fr


pHC, frHC = plain(8, 540, 534, 20)
lab(pHC, frHC, 9, 550, "(c)", 15, bold=True)
lab(pHC, frHC, 139, 554, "BW-M1", 9, bold=True, align="center")
lab(pHC, frHC, 394, 554, "BW-M4", 9, bold=True, align="center")
pC1, frC1 = box_panel(8, 250, 34, 244, -24.4, 67.7, m1_q1, m1_med, m1_q3, m1_lo, m1_hi, m1_out,
                      m1_p, [0, 25, 50], "BW-M1 Eigengene", True, 576, 580, 585)
pC2, frC2 = box_panel(258, 284, 287, 501, -88.8, 88.8, m4_q1, m4_med, m4_q3, m4_lo, m4_hi, m4_out,
                      m4_p, [-50, 0, 50], "BW-M4 Eigengene", False, 578, 583, 590)

left = column(row(pTagA, pA, pLA), pA2, row(pB, pLB), pB2, pHC, row(pC1, pC2))

# ======================= (d)-(f) volcano =======================
VCOLS = [(542, 168, 576, 708), (710, 135, 711, 843), (845, 197, 847, 978)]


def header(cy0, h, tag, tag_y, title, title_y):
    p, fr = plain(542, cy0, 500, h)
    lab(p, fr, 552, tag_y, tag, 15, bold=True)
    if title:
        lab(p, fr, 773, title_y, title, 10.5, bold=True, align="center")
    return p


def volcano_row(cy0, h, fy0, fy1, ptop, ylo, yhi, facets, yticks, ylabels, yminor, psigns, ppos):
    figs = []
    for k, (pts, xr, xticks, xlabels, xminor) in enumerate(facets):
        cx0, w, fx0, fx1 = VCOLS[k]
        per = (yhi - ylo) / (fy1 - ptop)
        ytop = yhi + (ptop - fy0) * per
        fr = Fr(fx0, fx1, fy0, fy1, xr, (ylo, ytop))
        p = make(cx0, cy0, w, h, fr, yaxis=(k == 0))
        grid_style(p)
        p.outline_line_color = "#7F7F7F"
        p.segment([0], [ylo], [0], [yhi], line_color="#333333", line_width=1)
        p.scatter([q[0] for q in pts], [q[1] for q in pts], size=5, color=region_colors[k],
                  alpha=0.85, line_color=None)
        p.quad(left=[xr[0]], right=[xr[1]], bottom=[yhi], top=[ytop], fill_color="#D9D9D9",
               line_color="#7F7F7F", line_width=1)
        p.add_layout(Label(x=(xr[0] + xr[1]) / 2, y=(yhi + ytop) / 2, text=region_names[k],
                           text_font=FONT, text_font_size="7.5px", text_align="center",
                           text_baseline="middle", text_color="#1A1A1A"))
        set_ticks(p, "x", xticks, xlabels, xminor)
        p.xaxis.major_label_text_font_size = "7.5px"
        p.ygrid.ticker = FixedTicker(ticks=yticks, minor_ticks=yminor)
        if k == 0:
            set_ticks(p, "y", yticks, ylabels, yminor)
            p.yaxis.major_label_text_font_size = "7px"
            p.yaxis.axis_label = "p value"
            p.yaxis.axis_label_text_font_size = "10px"
            p.yaxis.axis_label_standoff = 2
        if k == 1:
            p.xaxis.axis_label = "Differential expression logFC"
            p.xaxis.axis_label_text_font_size = "10px"
            p.xaxis.axis_label_standoff = 3
        px, py = ppos[k]
        lab(p, fr, px, py, "p", 8)
        lab(p, fr, px + 4.6, py + 2, "sign", 5)
        lab(p, fr, px + 14, py, ": " + psigns[k], 8)
        figs.append(p)
    return row(*figs)


hd = header(8, 16, "(d)", 16, "BW-M1", 16)
rd = volcano_row(24, 156, 24, 152, 34, -0.28, 6.0,
                 [(d_cer, (-0.302, 0.37), [-0.2, 0.0, 0.2], ["-0.2", "0.0", "0.2"], [-0.3, -0.1, 0.1, 0.3]),
                  (d_fro, (-0.188, 0.318), [-0.1, 0.0, 0.1, 0.2, 0.3], ["-0.1", "0.0", "0.1", "0.2", "0.3"],
                   [-0.15, -0.05, 0.05, 0.15, 0.25]),
                  (d_tem, (-0.433, 0.516), [-0.25, 0.0, 0.25, 0.5], ["-0.25", "0.0", "0.25", "0.5"],
                   [-0.375, -0.125, 0.125, 0.375])],
                 [0, 2, 4], ["10⁰", "10⁻²", "10⁻⁴"], [1, 3, 5],
                 d_psign, [(654, 42.5), (788, 42), (927, 146)])
he = header(180, 22, "(e)", 191, "BW-M6", 194)
re = volcano_row(202, 157, 202, 331, 213, -0.27, 6.3,
                 [(e_cer, (-0.401, 0.562), [-0.4, -0.2, 0.0, 0.2, 0.4], ["-0.4", "-0.2", "0.0", "0.2", "0.4"],
                   [-0.3, -0.1, 0.1, 0.3, 0.5]),
                  (e_fro, (-0.118, 0.666), [0.0, 0.2, 0.4, 0.6], ["0.00", "0.2", "0.4", "0.6"],
                   [-0.1, 0.1, 0.3, 0.5]),
                  (e_tem, (-0.145, 1.279), [0.0, 0.4, 0.8, 1.2], ["0.0", "0.4", "0.8", "1.2"],
                   [0.2, 0.6, 1.0])],
                 [1, 3, 5], ["10⁻¹", "10⁻³", "10⁻⁵"], [0, 2, 4, 6],
                 e_psign, [(652, 221.5), (787, 222), (923, 321.5)])
hf = header(359, 24, "(f)", 370, "BW-M4", 374)
rf = volcano_row(383, 155, 383, 510, 393, -0.31, 6.97,
                 [(f_cer, (-1.03, 0.24), [-1.0, -0.75, -0.5, -0.25, 0.0], ["-1.00", "-0.75", "-0.50", "-0.25", "0.0"],
                   [-0.875, -0.625, -0.375, -0.125, 0.125]),
                  (f_fro, (-0.65, 0.214), [-0.6, -0.4, -0.2, 0.0, 0.2], ["-0.6", "-0.4", "-0.2", "0", "0.2"],
                   [-0.5, -0.3, -0.1, 0.1]),
                  (f_tem, (-1.08, 0.19), [-1.0, -0.75, -0.5, -0.25, 0.0], ["-1.00", "-0.75", "-0.50", "-0.25", "0.0"],
                   [-0.875, -0.625, -0.375, -0.125, 0.125])],
                 [0, 2, 4, 6], ["10⁰", "10⁻²", "10⁻⁴", "10⁻⁶"], [1, 3, 5, 7],
                 f_psign, [(580, 403), (712, 403), (850, 403)])
hg = header(538, 24, "(g)", 549, None, 0)


# ======================= (g) preservation =======================
def pres_fig(cx0, w, fx0, fx1, xr, names, ctl, asd, dx, dy, color, strip, xt):
    ylo, yhi = -0.31, 6.63
    ytop = yhi + 9 * (yhi - ylo) / 188.0
    fr = Fr(fx0, fx1, 562, 759, xr, (ylo, ytop))
    p = make(cx0, 562, w, 226, fr)
    grid_style(p)
    p.outline_line_color = "#7F7F7F"
    s3 = math.sqrt(g_threshold)
    p.segment([s3], [ylo], [s3], [yhi], line_color="#5A5AFF", line_dash="2 2", line_width=1)
    p.segment([xr[0]], [s3], [xr[1]], [s3], line_color="#5A5AFF", line_dash="2 2", line_width=1)
    sx = [math.sqrt(v) for v in ctl]
    sy = [math.sqrt(v) for v in asd]
    p.scatter(sx, sy, size=2.5, color=color, line_color=None)
    p.text(x=sx, y=sy, text=names, x_offset=dx, y_offset=dy, text_font=value(FONT),
           text_font_size="6px", text_color=color, text_align="center", text_baseline="middle")
    p.quad(left=[xr[0]], right=[xr[1]], bottom=[yhi], top=[ytop], fill_color="#D9D9D9",
           line_color="#7F7F7F", line_width=1)
    p.add_layout(Label(x=(xr[0] + xr[1]) / 2, y=(yhi + ytop) / 2, text=strip, text_font=FONT,
                       text_font_size="8px", text_align="center", text_baseline="middle", text_color="#1A1A1A"))
    yt = [3, 10, 20, 30, 40]
    set_ticks(p, "y", [math.sqrt(v) for v in yt], [str(v) for v in yt], [0.866, 2.447, 3.817, 4.975, 5.901])
    set_ticks(p, "x", [math.sqrt(v) for v in xt], [str(v) for v in xt], [0.866, 2.447, 3.817, 4.975, 5.901])
    p.xaxis.major_label_text_font_size = "8.5px"
    p.yaxis.major_label_text_font_size = "8.5px"
    p.xaxis.axis_label = "CTL preservation(Z)"
    p.yaxis.axis_label = "ASD preservation (Z)"
    p.xaxis.axis_label_text_font_size = "11px"
    p.yaxis.axis_label_text_font_size = "11px"
    p.xaxis.axis_label_standoff = 2
    p.yaxis.axis_label_standoff = 2
    return p, fr


pG1, frG1 = pres_fig(542, 243, 573, 763, (-0.39, 6.64), g_ctx_names, g_ctx_ctl, g_ctx_asd,
                     g_ctx_dx, g_ctx_dy, "#00BA38", "Cortex", [10, 20, 30, 40])
pG2, frG2 = pres_fig(785, 257, 816, 1004, (-0.33, 6.66), g_cbl_names, g_cbl_ctl, g_cbl_asd,
                     g_cbl_dx, g_cbl_dy, "#619CFF", "Cerebellum", [3, 10, 20, 30, 40])

right = column(hd, rd, he, re, hf, rf, hg, row(pG1, pG2))
layout = row(left, right)

open("out.html", "w").write(file_html(layout, INLINE))
